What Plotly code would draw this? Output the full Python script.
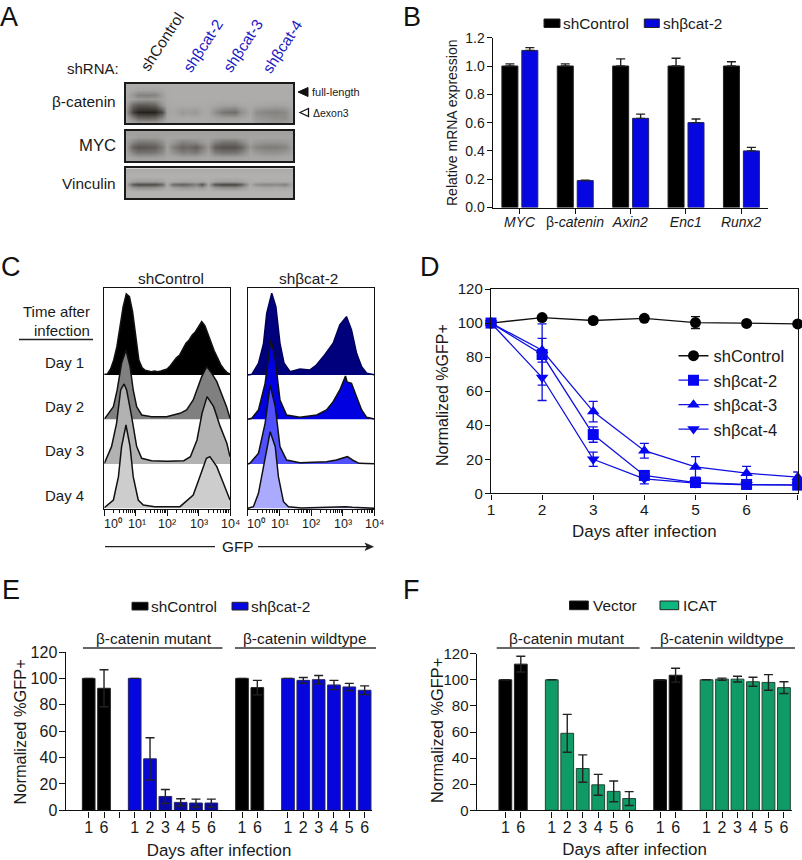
import plotly.graph_objects as go

FONT = "Liberation Sans, Arial, sans-serif"
INK = "#1a1a1a"
W, H = 802, 860

# ---------- Panel A: blot intensity (grey level 0-255) ----------
blot_cols = [18, 38, 55, 80, 105, 125, 142, 160, 185, 205, 228, 245, 265, 285, 310, 345, 365, 390, 410, 440, 470, 495, 520]
bcat_rows = [12, 30, 44, 58, 75, 95, 113, 130]
bcat_z = [
    [172]*23,
    [170,165,160,160,160,165,170,170,170,170,170,170,170,170,170,170,170,170,170,170,170,170,170],
    [168,150,128,125,130,155,168,170,170,170,170,170,170,170,170,170,170,170,170,170,170,170,170],
    [168,158,152,150,152,160,168,170,170,170,170,170,170,170,170,170,170,170,170,170,170,170,170],
    [160,100, 85, 85, 95,145,166,168,168,168,168,168,168,165,160,158,165,168,165,162,160,162,168],
    [150, 60, 32, 28, 30, 70,160,166,150,155,150,165,166,140,115,105,140,165,140,130,128,135,165],
    [165,130,100, 95,100,135,165,168,168,168,168,168,168,162,158,158,162,168,150,145,140,140,160],
    [168,165,160,160,160,165,168,170,170,170,170,170,170,170,170,170,170,170,158,152,150,152,165],
]
myc_rows = [153, 170, 185, 200, 215, 230, 243]
myc_z = [
    [158]*23,
    [162,160,155,155,155,160,162,162,162,162,162,162,162,160,158,158,160,162,162,162,162,162,162],
    [160,130,115,115,120,140,160,150,125,130,135,150,158,125,110,110,130,160,150,145,145,150,160],
    [158, 95, 82, 85, 90,120,158,125, 98,105, 92,120,150, 90, 80, 80, 95,150,130,122,122,130,158],
    [160,125,110,110,115,135,160,145,120,125,115,140,158,120,108,110,125,160,150,142,142,148,160],
    [165,160,155,155,155,160,165,165,160,160,160,165,165,160,158,158,160,165,165,162,162,165,165],
    [165]*23,
]
vinc_rows = [265, 290, 303, 312, 321, 335, 355]
vinc_z = [
    [170]*23,
    [175]*23,
    [172,160,155,155,155,160,172,170,165,165,168,165,172,162,158,158,162,172,172,170,170,170,172],
    [170, 85, 70, 72, 72,100,170,105, 92,100,125, 80,165, 80, 66, 66, 90,170,140,130,135,125,170],
    [172,150,140,140,145,155,172,160,150,150,160,150,172,150,140,140,150,172,170,165,168,165,172],
    [176]*23,
    [176]*23,
]

# ---------- Panel B ----------
genes = ["<i>MYC</i>", "β-<i>catenin</i>", "<i>Axin2</i>", "<i>Enc1</i>", "<i>Runx2</i>"]
b_control = [1.0, 1.0, 1.0, 1.0, 1.0]
b_control_err = [0.015, 0.015, 0.05, 0.055, 0.03]
b_knock = [1.11, 0.19, 0.63, 0.60, 0.40]
b_knock_err = [0.02, 0.003, 0.03, 0.025, 0.025]

# ---------- Panel C: (log10 GFP, height) ----------
c_ctrl = {
    "Day 1": ([0,.1,.2,.3,.4,.5,.6,.7,.8,.9,1,1.1,1.2,1.3,1.4,1.5,1.6,1.7,1.8,1.9,2,2.1,2.2,2.3,2.4,2.5,2.6,2.7,2.8,2.9,3,3.1,3.2,3.3,3.4,3.5,3.6,3.7,3.8,3.9,4],
              [2,3,18,45,85,140,205,243,235,190,115,45,22,14,12,10,12,10,12,15,18,28,42,52,60,78,95,105,120,130,145,160,148,122,95,72,52,32,18,8,3]),
    "Day 2": ([0,.02,.29,.41,.55,.69,.82,.92,1.03,1.19,1.5,1.98,2.41,2.62,2.83,2.99,3.1,3.26,3.42,3.58,3.73,3.89,4],
              [2,3,38,88,168,208,158,88,38,13,8,8,18,28,58,98,128,158,138,113,78,38,3]),
    "Day 3": ([0,.23,.39,.52,.63,.71,.87,1.03,1.19,1.5,2,2.53,2.74,2.95,3.11,3.27,3.48,3.69,3.9,4],
              [2,52,122,222,240,222,142,52,17,10,8,10,22,72,152,202,172,112,62,22]),
    "Day 4": ([0,.29,.45,.55,.69,.82,.92,1.08,1.24,1.6,2.41,2.83,3.04,3.25,3.36,3.58,3.79,4],
              [2,25,95,185,250,185,95,25,10,5,5,40,95,150,155,125,75,25]),
}
c_sh = {
    "Day 1": ([0,.13,.34,.5,.6,.76,.89,1.02,1.15,1.34,1.65,1.96,2.17,2.43,2.7,2.91,3.12,3.28,3.44,3.6,3.76,4],
              [0,2,35,95,185,245,205,95,35,10,18,15,30,60,95,150,175,135,65,25,5,1]),
    "Day 2": ([0,.13,.34,.55,.73,.86,1.02,1.23,1.65,2.18,2.49,2.7,2.91,3.06,3.09,3.14,3.28,3.44,3.6,3.76,4],
              [0,3,28,108,238,188,58,13,6,13,28,53,88,125,130,112,108,68,28,6,1]),
    "Day 3": ([0,.07,.34,.55,.71,.87,1.02,1.23,1.65,2.49,2.8,3.1,3.15,3.31,3.52,4],
              [0,2,32,122,237,172,52,12,4,7,12,20,22,12,2,1]),
    "Day 4": ([0,.18,.34,.5,.71,.87,.97,1.13,1.29,1.7,2.9,3.1,3.3,3.6,4],
              [0,5,45,125,230,185,95,20,5,1,3,5,3,1,0]),
}
c_days = ["Day 1", "Day 2", "Day 3", "Day 4"]
c_bases = [402, 269, 135, 2]
c_ctrl_colors = ["#000000", "#808080", "#b2b2b2", "#cdcdcd"]
c_sh_colors = ["#00007c", "#0000e0", "#5050ff", "#aaaaff"]
c_tick_labels = ["10⁰", "10¹", "10²", "10³", "10⁴"]

# ---------- Panel D ----------
d_days = [1, 2, 3, 4, 5, 6, 7]
d_ctrl = [100, 103.2, 101.5, 102.8, 100.3, 99.8, 99.5]
d_ctrl_err = [0.5, 1, 1, 1, 3.5, 1, 1]
d_sh2 = [100, 81.5, 34.5, 10.5, 6.3, 5.2, 4.8]
d_sh2_err = [0, 18, 4.5, 2.5, 2, 2, 2]
d_sh3 = [100, 84, 48, 25, 15.5, 11.8, 9.5]
d_sh3_err = [0, 7, 6, 4.3, 6, 4, 3]
d_sh4 = [100, 68, 20, 8.5, 6, 5, 5]
d_sh4_err = [0, 13.5, 4.2, 3, 2, 1.5, 1.5]

# ---------- Panels E, F ----------
ef_slots_ctrl = [0, 1, 10, 11]
ef_slots_kd = [3, 4, 5, 6, 7, 8, 13, 14, 15, 16, 17, 18]
ef_tick_slots = [0, 1, 3, 4, 5, 6, 7, 8, 10, 11, 13, 14, 15, 16, 17, 18]
ef_tick_days = ["1", "6", "1", "2", "3", "4", "5", "6", "1", "6", "1", "2", "3", "4", "5", "6"]
e_ctrl = [100, 92.5, 100, 93]
e_ctrl_err = [0, 14, 0, 5.5]
e_kd = [100, 39, 10.5, 6, 5.5, 5.5, 100, 98.5, 99, 95, 93.5, 91]
e_kd_err = [0, 16, 5.3, 2.7, 3, 3, 0, 2.2, 3.2, 3.5, 2.7, 3.3]
e_kd_colors = ["#0606e0", "#0606d8", "#0808a8", "#0808a8", "#0808a8", "#0808a8",
               "#0606e0", "#0606dc", "#0606dc", "#0606dc", "#0606dc", "#0606dc"]
f_ctrl = [100, 112, 100, 103.5]
f_ctrl_err = [0, 6, 0, 5.3]
f_kd = [100, 59, 32, 19.5, 14.5, 9, 100, 100.5, 100.5, 98.5, 98, 94]
f_kd_err = [0, 14.5, 10.5, 8, 8, 5.3, 0, 0.8, 2.2, 3.5, 6, 4.5]


def px(x):
    return x / W


def py(y):
    return 1 - y / H


def dom(x0, x1, y0, y1):
    return dict(x=[px(x0), px(x1)], y=[py(y1), py(y0)])


fig = go.Figure()
layout = {}
annotations = []
shapes = []


def ann(text, x, y, size=15, anchor="center", angle=0, color=INK):
    annotations.append(dict(text=text, x=px(x), y=py(y), xref="paper", yref="paper", showarrow=False,
                            font=dict(size=size, color=color, family=FONT), xanchor=anchor, yanchor="middle",
                            textangle=angle, borderpad=0, borderwidth=0, align="center"))


def line(x0, y0, x1, y1, color="#333333", width=1.5):
    shapes.append(dict(type="line", xref="paper", yref="paper", x0=px(x0), x1=px(x1), y0=py(y0), y1=py(y1),
                       line=dict(color=color, width=width)))


def swatch(x0, y0, x1, y1, color):
    shapes.append(dict(type="rect", xref="paper", yref="paper", x0=px(x0), x1=px(x1), y0=py(y0), y1=py(y1),
                       fillcolor=color, line=dict(color="#222222", width=1)))


def tri(points, fill, width):
    path = "M" + "L".join(f"{px(x)},{py(y)}" for x, y in points) + "Z"
    shapes.append(dict(type="path", xref="paper", yref="paper", fillcolor=fill, path=path,
                       line=dict(color="#111111", width=width)))


def axes(n, d, xkw, ykw):
    layout[f"xaxis{n}"] = dict(domain=d["x"], anchor=f"y{n}", showgrid=False, zeroline=False, **xkw)
    layout[f"yaxis{n}"] = dict(domain=d["y"], anchor=f"x{n}", showgrid=False, zeroline=False, **ykw)


tickfont = lambda s: dict(size=s, color=INK, family=FONT)
AX = dict(showline=True, linecolor="#111111", linewidth=1.4, ticks="outside", tickcolor="#111111", tickwidth=1.3)

# ---------- A ----------
for n, (rows, z, y0, y1) in enumerate([(bcat_rows, bcat_z, 84, 123.3), (myc_rows, myc_z, 131, 161.3),
                                       (vinc_rows, vinc_z, 168.3, 198.3)], start=1):
    fig.add_trace(go.Heatmap(x=blot_cols, y=rows, z=z, zmin=0, zmax=255, zsmooth="best", showscale=False,
                             colorscale=[[0, "#0a0500"], [1, "#ffffff"]], hoverinfo="skip", xaxis=f"x{n}", yaxis=f"y{n}"))
    box = dict(showline=True, linecolor="#1a1a1a", linewidth=1.6, mirror=True, ticks="", showticklabels=False)
    axes(n, dom(126, 293, y0, y1), dict(range=[18, 520], **box), dict(range=[rows[-1], rows[0]], **box))

ann("shRNA:", 119.5, 68.5, 15, "right")
ann("shControl", 162, 41.5, 15.4, angle=-57)
for x, t in [(202, "shβcat-2"), (242, "shβcat-3"), (282, "shβcat-4")]:
    ann(t, x, 46, 15.4, angle=-57, color="#2020c4")
ann("β-catenin", 116, 101, 15.4, "right")
ann("MYC", 116, 145.5, 16.7, "right")
ann("Vinculin", 116, 183, 15.4, "right")
ann("full-length", 312, 91.5, 11, "left")
ann("Δexon3", 313, 112.5, 10.5, "left")
tri([(298, 92), (308, 87.5), (308, 96.5)], "#111111", 1)
tri([(300, 112.5), (308.5, 108.5), (308.5, 116.5)], "#ffffff", 1.3)

# ---------- B ----------
bar_w = 0.289
err_b = dict(type="data", symmetric=False, color="#222222", thickness=1.4, width=4.5)
fig.add_trace(go.Bar(x=list(range(5)), y=b_control, name="shControl", width=bar_w, offset=-0.32,
                     marker=dict(color="#000000", line=dict(color="#222222", width=1)), showlegend=False,
                     error_y=dict(array=b_control_err, arrayminus=[0]*5, **err_b), xaxis="x4", yaxis="y4"))
fig.add_trace(go.Bar(x=list(range(5)), y=b_knock, name="shβcat-2", width=bar_w, offset=0.04,
                     marker=dict(color="#0606e0", line=dict(color="#222266", width=1)), showlegend=False,
                     error_y=dict(array=b_knock_err, arrayminus=[0]*5, **err_b), xaxis="x4", yaxis="y4"))
axes(4, dom(492.7, 768.3, 37.7, 207.5),
     dict(range=[-0.486, 4.49], tickvals=list(range(5)), ticktext=genes, tickfont=tickfont(14), ticklen=5, tickangle=0,
          ticklabelstandoff=-4, **AX),
     dict(range=[0, 1.2], tickvals=[0, .2, .4, .6, .8, 1, 1.2], ticktext=["0.0", "0.2", "0.4", "0.6", "0.8", "1.0", "1.2"],
          tickfont=tickfont(14), ticklen=5, ticklabelstandoff=-1, **AX))
ann("Relative mRNA expression", 452, 123, 14, angle=-90)
swatch(544, 19, 560, 27.5, "#000000")
ann("shControl", 562.5, 23.5, 15.4, "left")
swatch(644.3, 19, 659.3, 27.5, "#0606e0")
ann("shβcat-2", 662.5, 23.5, 15.4, "left")

# ---------- C ----------
box = dict(showline=True, linecolor="#111111", linewidth=1.4, mirror=True)
minor_vals = [k + v for k in range(4) for v in (.301, .477, .602, .699, .778, .845, .903, .954)]
for n, (curves, colors, x0, x1) in zip((5, 6), [(c_ctrl, c_ctrl_colors, 104.3, 230), (c_sh, c_sh_colors, 247.7, 374.3)]):
    for day, base, color in zip(c_days, c_bases, colors):
        xs, hs = curves[day]
        fig.add_trace(go.Scatter(x=[0, 4], y=[base, base], mode="lines", line=dict(width=0, color=color), opacity=1,
                                 showlegend=False, hoverinfo="skip", xaxis=f"x{n}", yaxis=f"y{n}"))
        fig.add_trace(go.Scatter(x=xs, y=[base + h for h in hs], mode="lines", fill="tonexty", fillcolor=color, name=day,
                                 line=dict(color="#111111" if color not in ("#00007c",) else "#00005a", width=1.5),
                                 showlegend=False, xaxis=f"x{n}", yaxis=f"y{n}"))
    axes(n, dom(x0, x1, 288.3, 509),
         dict(range=[0, 4], tickvals=[0, 1, 2, 3, 4], showticklabels=False, ticks="outside", ticklen=6, tickcolor="#111111", tickwidth=1.2,
              minor=dict(tickvals=minor_vals, ticks="outside", ticklen=3, tickcolor="#111111", tickwidth=1), **box),
         dict(range=[0, 662], ticks="", showticklabels=False, **box))
    step = (x1 - x0) / 4
    for k, label in enumerate(c_tick_labels):
        dx = 9 if k == 0 else (1 if k == 1 else 0)
        ann(label, x0 + k * step + dx, 524, 12.5)
ann("shControl", 171, 278, 15.4)
ann("shβcat-2", 308, 278, 15.4)
ann("Time after", 90, 311.5, 15, "right")
ann("infection", 90, 330, 15, "right")
line(19, 339.5, 93, 339.5, "#222222", 1.4)
for t, y in zip(c_days, (362.5, 406.5, 451, 495.5)):
    ann(t, 84, y, 15, "right")
line(105, 546.7, 215, 546.7, "#222222", 1.2)
ann("GFP", 237.5, 546.5, 15.4)
line(258, 546.7, 368, 546.7, "#222222", 1.2)
tri([(373.5, 546.7), (365, 543), (367, 546.7), (365, 550.4)], "#222222", 0.5)

# ---------- D ----------
BLUE = "#1010e0"
d_series = [("shControl", d_ctrl, d_ctrl_err, "circle", "#000000", "#111111"),
            ("shβcat-2", d_sh2, d_sh2_err, "square", "#0606f0", BLUE),
            ("shβcat-3", d_sh3, d_sh3_err, "triangle-up", "#0606f0", BLUE),
            ("shβcat-4", d_sh4, d_sh4_err, "triangle-down", "#0606f0", BLUE)]
for name, vals, errs, sym, mc, lc in d_series:
    fig.add_trace(go.Scatter(x=d_days, y=vals, name=name, mode="lines+markers", cliponaxis=False, legendgroup=name,
                             line=dict(color=lc, width=1.3), marker=dict(symbol=sym, size=11, color=mc),
                             error_y=dict(type="data", array=errs, color=lc, thickness=1.3, width=4.5),
                             xaxis="x7", yaxis="y7"))
axes(7, dom(491, 797.7, 289, 493.3),
     dict(range=[1, 7], tickvals=d_days, tickfont=tickfont(15.5), ticklen=5, mirror=True, ticklabelstandoff=-3,
          title=dict(text="Days after infection", font=tickfont(16.9), standoff=8), **AX),
     dict(range=[0, 120], tickvals=[0, 20, 40, 60, 80, 100, 120], tickfont=tickfont(15), ticklen=5, mirror=True,
          ticklabelstandoff=-1, **AX))
ann("Normalized %GFP+", 443, 395, 16, angle=-90)

# ---------- E / F ----------
def ef_panel(n, slots_range, dom_, ctrl, ctrl_err, kd, kd_err, kd_colors, names, ctrl_line, kd_line, extra_ticks, title_standoff, ytick_size):
    e = dict(type="data", color="#222222", thickness=1.4, width=4.5)
    fig.add_trace(go.Bar(x=ef_slots_ctrl, y=ctrl, name=names[0], width=0.826, showlegend=False,
                         marker=dict(color="#000000", line=dict(color=ctrl_line, width=1)),
                         error_y=dict(array=ctrl_err, **e), xaxis=f"x{n}", yaxis=f"y{n}"))
    fig.add_trace(go.Bar(x=ef_slots_kd, y=kd, name=names[1], width=0.826, showlegend=False,
                         marker=dict(color=kd_colors, line=dict(color=kd_line, width=1)),
                         error_y=dict(array=kd_err, **e), xaxis=f"x{n}", yaxis=f"y{n}"))
    axes(n, dom_,
         dict(range=slots_range, tickvals=ef_tick_slots, ticktext=ef_tick_days, tickfont=tickfont(16), ticklen=6, tickangle=0,
              ticklabelstandoff=-4, minor=dict(tickvals=extra_ticks, ticks="outside", ticklen=6, tickcolor="#111111", tickwidth=1.3),
              title=dict(text="Days after infection", font=tickfont(16.9), standoff=title_standoff), **AX),
         dict(range=[0, 120], tickvals=[0, 20, 40, 60, 80, 100, 120], tickfont=tickfont(ytick_size), ticklen=6,
              ticklabelstandoff=-2, **AX))


ef_panel(8, [-1.5, 18.5], dom(65.7, 372.3, 652, 810.3), e_ctrl, e_ctrl_err, e_kd, e_kd_err, e_kd_colors,
         ("shControl", "shβcat-2"), "#222222", "#222266", [2], 9, 16)
ef_panel(9, [-1.85, 18.54], dom(476.7, 792.3, 653.7, 810.3), f_ctrl, f_ctrl_err, f_kd, f_kd_err, "#0f9a66",
         ("Vector", "ICAT"), "#222222", "#224433", [], 8, 15)
ann("Normalized %GFP+", 19, 732.5, 16.4, angle=-90)
ann("Normalized %GFP+", 437, 731, 16.4, angle=-90)

swatch(132, 602.3, 148, 610, "#000000")
ann("shControl", 151, 606, 15.4, "left")
swatch(232, 602.3, 248, 610, "#0606e0")
ann("shβcat-2", 251, 606, 15.4, "left")
swatch(569.5, 601, 588.3, 609.7, "#000000")
ann("Vector", 593.3, 605.5, 15.4, "left")
swatch(660, 601, 678.7, 609.7, "#0cb87e")
ann("ICAT", 683.3, 605.5, 15.4, "left")

ann("β-catenin mutant", 153.5, 638, 15.4)
ann("β-catenin wildtype", 305, 638, 15.4)
line(83, 648, 222.5, 648)
line(235, 648, 376, 648)
ann("β-catenin mutant", 566.5, 638, 15.4)
ann("β-catenin wildtype", 722, 638, 15.4)
line(496.7, 648, 639.5, 648)
line(650.7, 648, 795, 648)

# ---------- panel letters ----------
for t, x, y in [("A", 0, 17), ("B", 402.5, 17), ("C", 1, 267), ("D", 420, 267), ("E", 2, 590), ("F", 403, 590)]:
    ann(t, x, y, 27, "left", color="#111111")

fig.update_layout(
    width=W, height=H, autosize=False, margin=dict(l=0, r=0, t=0, b=0, pad=0, autoexpand=False),
    paper_bgcolor="#ffffff", plot_bgcolor="rgba(0,0,0,0)", barmode="overlay", font=dict(family=FONT, color=INK),
    annotations=annotations, shapes=shapes,
    legend=dict(x=px(673.5), y=py(338.5), xanchor="left", yanchor="top", font=tickfont(16.5), bgcolor="rgba(0,0,0,0)",
                tracegroupgap=0, itemwidth=30),
    **layout,
)
fig.write_html("out.html", post_script="document.body.style.margin='0';", config=dict(displayModeBar=False))
